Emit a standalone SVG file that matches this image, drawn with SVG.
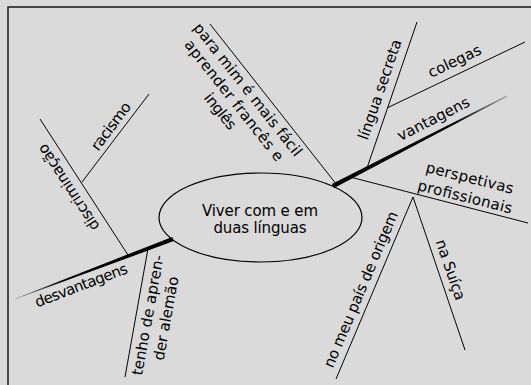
<svg xmlns="http://www.w3.org/2000/svg" width="531" height="385" viewBox="0 0 531 385">
<defs>
<linearGradient id="gV" gradientUnits="userSpaceOnUse" x1="333" y1="186" x2="507" y2="96">
<stop offset="0" stop-color="#000"/><stop offset="0.7" stop-color="#000"/><stop offset="1" stop-color="#9a9a9a"/>
</linearGradient>
<linearGradient id="gD" gradientUnits="userSpaceOnUse" x1="173" y1="239" x2="15" y2="299">
<stop offset="0" stop-color="#000"/><stop offset="0.7" stop-color="#000"/><stop offset="1" stop-color="#9a9a9a"/>
</linearGradient>
<style>
.t{font-family:"DejaVu Sans","Noto Sans",sans-serif;font-size:15px;fill:#000;text-anchor:middle}
.l{stroke:#000;stroke-width:1;fill:none}
</style>
</defs>
<rect x="0" y="0" width="531" height="385" fill="#dadada"/>
<rect x="8" y="7" width="540" height="400" fill="none" stroke="#222" stroke-width="1.6"/>

<g id="connectors">
<polygon points="334.1,188.1 331.9,183.9 506.8,95.6 507.2,96.4" fill="url(#gV)"/>
<polygon points="173.8,241.1 172.2,236.9 14.9,298.7 15.1,299.3" fill="url(#gD)"/>
<line class="l" x1="210" y1="24" x2="337" y2="185"/>
<line class="l" x1="367" y1="168" x2="417" y2="22"/>
<line class="l" x1="387" y1="108" x2="525" y2="42"/>
<line class="l" x1="352" y1="177.5" x2="528" y2="223"/>
<line class="l" x1="413" y1="197" x2="336" y2="379"/>
<line class="l" x1="413" y1="197" x2="465" y2="350"/>
<line class="l" x1="40" y1="119" x2="128" y2="255"/>
<line class="l" x1="82" y1="182" x2="149" y2="94"/>
<line class="l" x1="148" y1="248.5" x2="125" y2="377"/>
</g>

<g id="center">
<ellipse cx="260.5" cy="217.5" rx="101.5" ry="44.5" fill="none" stroke="#000" stroke-width="1.2"/>
<text class="t" x="260" y="216" textLength="116">Viver com e em</text>
<text class="t" x="260" y="233" textLength="93">duas línguas</text>
</g>

<g id="vantagens"><text class="t" transform="translate(439.4,130.5) rotate(-27.1)" x="0" y="-8" textLength="79">vantagens</text></g>
<g id="lingua-secreta"><text class="t" transform="translate(392.2,93.8) rotate(-71)" x="0" y="-8" textLength="105">língua secreta</text></g>
<g id="colegas"><text class="t" transform="translate(460.2,73) rotate(-25.6)" x="0" y="-8" textLength="57">colegas</text></g>
<g id="perspetivas">
<text class="t" transform="translate(462.6,206.6) rotate(14.1)" x="0" y="-24.5" textLength="90">perspetivas</text>
<text class="t" transform="translate(462.6,206.6) rotate(14.1)" x="0" y="-5" textLength="97">profissionais</text>
</g>
<g id="pais-origem"><text class="t" transform="translate(371.9,294.2) rotate(-67.1)" x="0" y="-7" textLength="168">no meu país de origem</text></g>
<g id="suica"><text class="t" transform="translate(439.1,273.7) rotate(71.2)" x="0" y="-7" textLength="63">na Suíça</text></g>
<g id="frances-ingles">
<text class="t" transform="translate(256.4,82.9) rotate(51.7)" x="0" y="16" textLength="165">para mim é mais fácil</text>
<text class="t" transform="translate(256.4,82.9) rotate(51.7)" x="0" y="33.5" textLength="150">aprender francês e</text>
<text class="t" transform="translate(256.4,82.9) rotate(51.7)" x="0" y="51" textLength="42">inglês</text>
</g>
<g id="desvantagens"><text class="t" transform="translate(77.3,275.1) rotate(-20.8)" x="0" y="16" textLength="98">desvantagens</text></g>
<g id="discriminacao"><text class="t" transform="translate(79.8,180) rotate(-123.1)" x="0" y="-8.5" textLength="100">discriminação</text></g>
<g id="racismo"><text class="t" transform="translate(119.8,132.9) rotate(-53.1)" x="0" y="-6" textLength="56">racismo</text></g>
<g id="aprender-alemao">
<text class="t" transform="translate(136.6,313) rotate(-79.7)" x="0" y="16.5" textLength="122">tenho de apren-</text>
<text class="t" transform="translate(136.6,313) rotate(-79.7)" x="0" y="35" textLength="85">der alemão</text>
</g>
</svg>
